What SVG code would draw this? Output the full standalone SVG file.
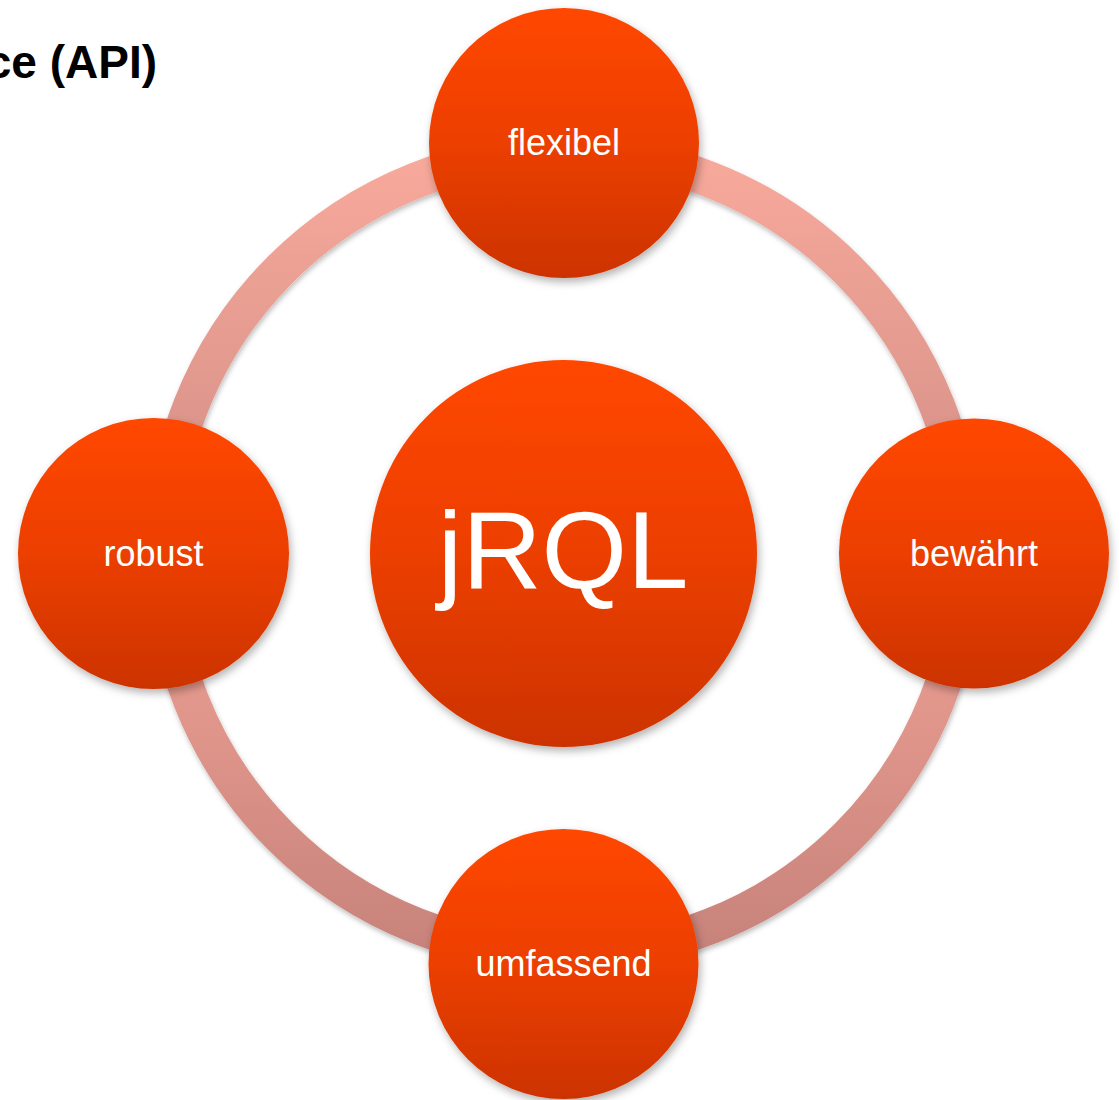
<svg xmlns="http://www.w3.org/2000/svg" width="1119" height="1100" viewBox="0 0 1119 1100">
<style>
.node{fill:url(#nodeGrad);filter:url(#shadow)}
.lbl{font-family:"Liberation Sans",Arial,sans-serif;fill:#ffffff;text-anchor:middle;font-size:36px}
.big{font-size:110px}
.ring{fill:none;stroke-width:36;filter:url(#rshadow)}
.title{font-family:"Liberation Sans",Arial,sans-serif;font-weight:bold;font-size:46px;fill:#000;text-anchor:end}
</style>
<defs>
<linearGradient id="nodeGrad" x1="0" y1="0" x2="0" y2="1">
<stop offset="0" stop-color="#ff4700"/>
<stop offset="0.5" stop-color="#ec3f00"/>
<stop offset="1" stop-color="#cc3300"/>
</linearGradient>
<linearGradient id="ringTop" gradientUnits="userSpaceOnUse" x1="0" y1="140" x2="0" y2="560">
<stop offset="0" stop-color="#f9aa9c"/>
<stop offset="1" stop-color="#d08c84"/>
</linearGradient>
<linearGradient id="ringBot" gradientUnits="userSpaceOnUse" x1="0" y1="560" x2="0" y2="960">
<stop offset="0" stop-color="#f2a396"/>
<stop offset="1" stop-color="#c6827a"/>
</linearGradient>
<filter id="shadow" x="-20%" y="-20%" width="140%" height="140%">
<feDropShadow dx="2" dy="4" stdDeviation="4" flood-color="#000" flood-opacity="0.3"/>
</filter>
<filter id="rshadow" x="-10%" y="-10%" width="120%" height="120%">
<feDropShadow dx="1" dy="3" stdDeviation="2.5" flood-color="#000" flood-opacity="0.25"/>
</filter>
</defs>
<rect width="1119" height="1100" fill="#ffffff"/>
<text class="title" x="157" y="78">ce (API)</text>
<g id="connectors">
<path class="ring" stroke="url(#ringTop)" d="M564,152 A401,401 0 0 0 163,553"/>
<path class="ring" stroke="url(#ringTop)" d="M564,152 A401,401 0 0 1 965,553"/>
<path class="ring" stroke="url(#ringBot)" d="M163,553 A401,401 0 0 0 564,954"/>
<path class="ring" stroke="url(#ringBot)" d="M965,553 A401,401 0 0 1 564,954"/>
</g>
<g id="node-center">
<circle class="node" cx="563.5" cy="553.5" r="193.5"/>
<text class="lbl big" x="563" y="588">jRQL</text>
</g>
<g id="node-flexibel">
<circle class="node" cx="564" cy="143" r="135"/>
<text class="lbl" x="564" y="155">flexibel</text>
</g>
<g id="node-robust">
<circle class="node" cx="153.5" cy="553.5" r="135.5"/>
<text class="lbl" x="153.5" y="566">robust</text>
</g>
<g id="node-bewaehrt">
<circle class="node" cx="974" cy="553.5" r="135"/>
<text class="lbl" x="974" y="566">bewährt</text>
</g>
<g id="node-umfassend">
<circle class="node" cx="563.5" cy="964" r="135"/>
<text class="lbl" x="563.5" y="976">umfassend</text>
</g>
</svg>
